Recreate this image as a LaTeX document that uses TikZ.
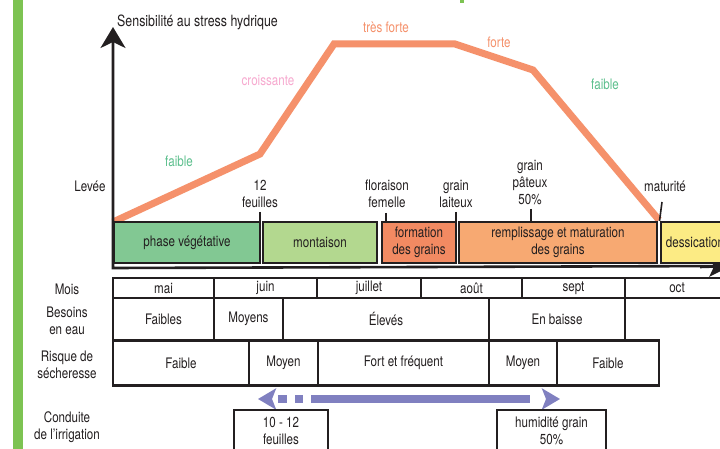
\documentclass[tikz,border=0pt]{standalone}
\usepackage{fontspec}
\setmainfont{TeX Gyre Heros}[FakeStretch=0.8]
\usetikzlibrary{arrows.meta}
\definecolor{textc}{HTML}{231F20}
\definecolor{barg}{HTML}{7DC352}
\definecolor{vegc}{HTML}{82C893}
\definecolor{montc}{HTML}{B3D88F}
\definecolor{formc}{HTML}{F28A62}
\definecolor{remplc}{HTML}{F7A972}
\definecolor{dessc}{HTML}{FCEB84}
\definecolor{curvec}{HTML}{F5916B}
\definecolor{lowg}{HTML}{5CBF8D}
\definecolor{pinkc}{HTML}{F7A9CF}
\definecolor{lavc}{HTML}{8080C0}
\newcommand{\dfont}{\fontsize{14.5}{17}\selectfont}
\begin{document}
\begin{tikzpicture}[x=1pt,y=-1pt,
  txt/.style={text=textc, font=\dfont, align=center, inner sep=0pt},
  phasebox/.style={draw=textc, line width=2.6pt, inner sep=0pt, outer sep=0pt, align=center, text=textc, font=\dfont},
  cell/.style={draw=textc, line width=2.4pt, inner sep=0pt, outer sep=0pt, align=center, text=textc, font=\dfont},
  tickline/.style={draw=textc, line width=1.6pt},
  axisline/.style={draw=textc, line width=2.6pt},
  sensecurve/.style={draw=curvec, line width=7pt, line join=miter},
  irrarrow/.style={draw=lavc, line width=8pt, dash pattern=on 0pt off 7pt on 9pt off 8pt on 8pt off 8pt on 219pt off 40pt}
]
\useasboundingbox (0,0) rectangle (720,449);
\clip (0,0) rectangle (720,449);
\fill[white] (0,0) rectangle (720,449);
% green side bar and title trace
\fill[barg] (13,0) rectangle (23,449);
\fill[barg] (460,0) rectangle (464,3);

% axis title
\node[txt, anchor=west, font=\fontsize{15.5}{17}\selectfont] (ytitle) at (117,22) {Sensibilité au stress hydrique};

% curve
\coordinate (c0) at (113,222);
\coordinate (c1) at (260,154);
\coordinate (c2) at (334,44);
\coordinate (c3) at (455,44);
\coordinate (c4) at (533,70);
\coordinate (c5) at (659,220);
\draw[sensecurve] (c0) -- (c1) -- (c2) -- (c3) -- (c4) -- (c5);

% axes
\coordinate (ytop) at (113,27);
\coordinate (origin) at (113,268);
\coordinate (xend) at (731,266);
\coordinate (xpre) at (700,267);
\draw[axisline, {Stealth[length=21pt,width=25pt,inset=6pt]}-] (ytop) -- (origin) -- (xend);
\draw[axisline, -{Stealth[length=22pt,width=20pt,inset=5pt]}] (xpre) -- (xend);

% curve labels
\node[txt, text=lowg] (lfaible1) at (179,161) {faible};
\node[txt, text=pinkc] (lcrois) at (268,80) {croissante};
\node[txt, text=curvec] (ltres) at (386,27) {très forte};
\node[txt, text=curvec] (lforte) at (499,42) {forte};
\node[txt, text=lowg] (lfaible2) at (605,84) {faible};

% stage labels
\node[txt] (levee) at (90,186) {Levée};
\node[txt] (l12f) at (260,194) {12\\feuilles};
\node[txt] (lflor) at (387,194) {floraison\\femelle};
\node[txt] (llait) at (456,194) {grain\\laiteux};
\node[txt] (lpat) at (530,183) {grain\\pâteux\\50\%};
\node[txt] (lmat) at (665,186) {maturité};

% ticks
\draw[tickline] (260,212) -- (260,222);
\draw[tickline] (386,213) -- (386,222);
\draw[tickline] (456,212) -- (456,222);
\draw[tickline] (531,209) -- (531,222);
\draw[tickline] (662,202) -- (659.5,221);

% phase boxes
\node[phasebox, fill=vegc, minimum width=146pt, minimum height=41pt] (veg) at (187,242.5) {phase végétative};
\node[phasebox, fill=montc, minimum width=114pt, minimum height=41pt] (mont) at (320,242.5) {montaison};
\node[phasebox, fill=formc, minimum width=74pt, minimum height=41pt] (form) at (419,242.5) {formation\\des grains};
\node[phasebox, fill=remplc, minimum width=198pt, minimum height=41pt] (rempl) at (558,242.5) {remplissage et maturation\\des grains};
\node[phasebox, fill=dessc, minimum width=68pt, minimum height=41pt] (dess) at (695,242.5) {dessication};

% row labels
\node[txt] (rmois) at (67,289) {Mois};
\node[txt] (rbes) at (67,321) {Besoins\\en eau};
\node[txt] (rrisq) at (67,364.5) {Risque de\\sécheresse};
\node[txt] (rcond) at (67,427) {Conduite\\de l'irrigation};

% months row
\node[cell, minimum width=101pt, minimum height=20pt] (mai) at (163.5,288) {mai};
\node[cell, minimum width=103pt, minimum height=20pt] (juin) at (265.5,288) {juin};
\node[cell, minimum width=104pt, minimum height=20pt] (juil) at (369,288) {juillet};
\node[cell, minimum width=101pt, minimum height=20pt] (aout) at (471.5,288) {août};
\node[cell, minimum width=103pt, minimum height=20pt] (sept) at (573.5,288) {sept};
\node[cell, minimum width=104pt, minimum height=20pt] (oct) at (677,288) {oct};

% besoins row
\node[cell, minimum width=101pt, minimum height=42pt] (bfaib) at (163.5,319) {Faibles};
\node[cell, minimum width=69pt, minimum height=42pt] (bmoy) at (248.5,319) {Moyens};
\node[cell, minimum width=206pt, minimum height=42pt] (belev) at (386,319) {Élevés};
\node[cell, minimum width=136pt, minimum height=42pt] (bbaisse) at (557,319) {En baisse};

% risque row
\node[cell, minimum width=136pt, minimum height=45pt] (rfaib) at (181,363) {Faible};
\node[cell, minimum width=69pt, minimum height=45pt] (rmoy) at (283.5,363) {Moyen};
\node[cell, minimum width=171pt, minimum height=45pt] (rfort) at (403.5,363) {Fort et fréquent};
\node[cell, minimum width=68pt, minimum height=45pt] (rmoy2) at (523,363) {Moyen};
\node[cell, minimum width=102pt, minimum height=45pt] (rfaib2) at (608,363) {Faible};

% irrigation
\coordinate (irrL) at (258,399);
\coordinate (irrR) at (560,399);
\draw[irrarrow, {Stealth[length=18pt,width=21pt,inset=4pt]}-{Stealth[length=18pt,width=21pt,inset=4pt]}] (irrL) -- (irrR);
\node[cell, minimum width=94pt, minimum height=42pt] (i1012) at (281,431) {10 - 12\\feuilles};
\node[cell, minimum width=109pt, minimum height=42pt] (ihum) at (551.5,431) {humidité grain\\50\%};
\end{tikzpicture}
\end{document}
